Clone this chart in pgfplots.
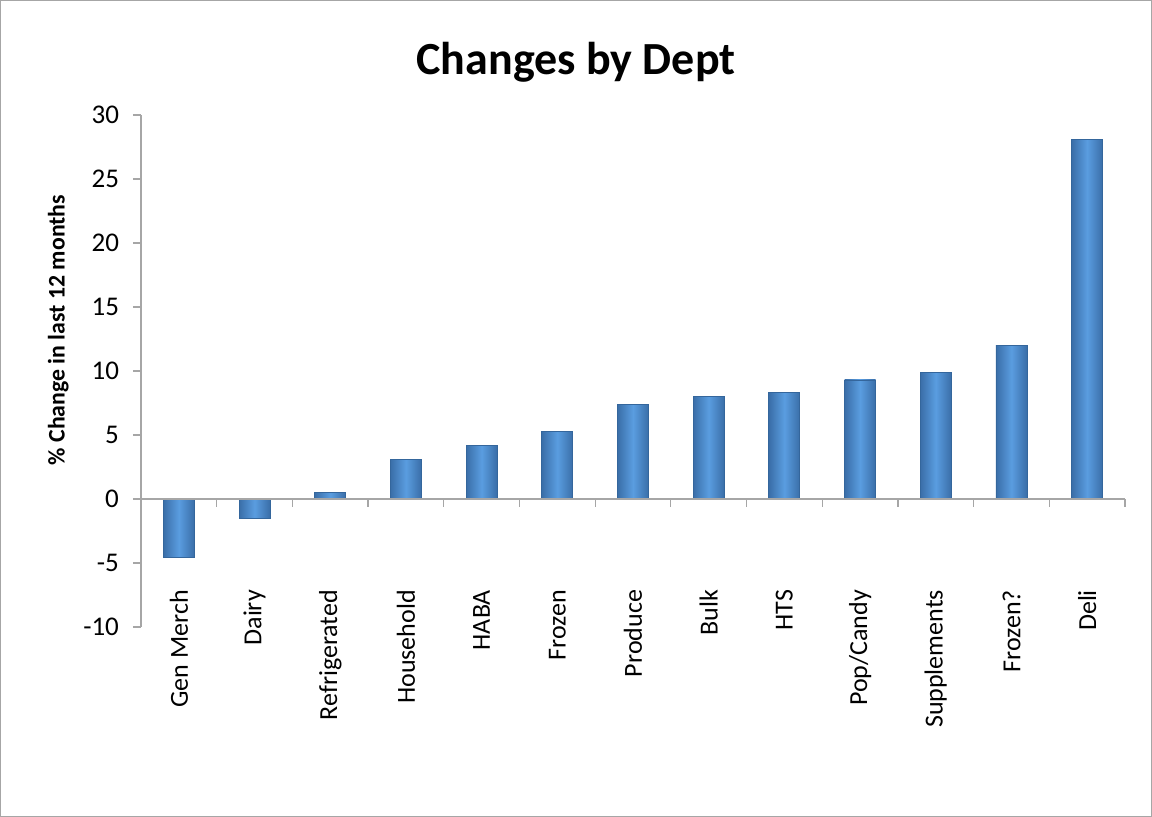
\documentclass[border=0pt]{standalone}
\usepackage{pgfplots}
\pgfplotsset{compat=1.18}
\usepackage{fontspec}
\setmainfont{Carlito}
\definecolor{axgray}{HTML}{A6A6A6}
\definecolor{barmid}{HTML}{5A9DE0}
\definecolor{baredge}{HTML}{3A6EA8}
\definecolor{barline}{HTML}{34669C}

\pgfplotsset{
    deptbar/.style={ybar, bar width=15.5pt, bar shift=0pt, draw=barline, line width=0.4pt,
        left color=baredge, right color=baredge, middle color=barmid},
}

\begin{document}
\begin{tikzpicture}
\useasboundingbox (-70.5pt,-95pt) rectangle (505.5pt,313.5pt);
\draw[axgray, line width=0.6pt] (-70.2pt,-94.7pt) rectangle (505.2pt,313.2pt);
\node[anchor=base, font=\bfseries\fontsize{23}{27}\selectfont] at (217.5pt,276pt) {Changes by Dept};
\begin{axis}[
    at={(0pt,0pt)}, anchor=south west,
    scale only axis,
    width=492pt, height=256pt,
    xmin=-0.5, xmax=12.5,
    ymin=-10, ymax=30,
    axis y line*=left,
    axis x line*=bottom,
    x axis line style={draw=none},
    y axis line style={axgray, line width=0.6pt},
    xtick={0,...,12},
    xticklabels={Gen Merch, Dairy, Refrigerated, Household, HABA, Frozen, Produce, Bulk, HTS, Pop/Candy, Supplements, Frozen?, Deli},
    xtick style={draw=none},
    xticklabel style={rotate=90, anchor=east, font=\fontsize{13}{15}\selectfont},
    xticklabel shift={-26pt},
    ytick={-10,-5,...,30},
    ytick style={axgray, line width=0.6pt},
    tick align=outside,
    major tick length=4pt,
    yticklabel style={font=\fontsize{13.5}{15}\selectfont, xshift=-3.5pt},
    /pgf/number format/assume math mode=true,
    ylabel={\% Change in last 12 months},
    ylabel style={at={(axis description cs:-0.084,0.58)}, anchor=center, font=\bfseries\fontsize{11.9}{14}\selectfont},
    clip=false,
]
\addplot[deptbar] coordinates {(0,-4.6)};
\addplot[deptbar] coordinates {(1,-1.5)};
\addplot[deptbar] coordinates {(2,0.5)};
\addplot[deptbar] coordinates {(3,3.1)};
\addplot[deptbar] coordinates {(4,4.2)};
\addplot[deptbar] coordinates {(5,5.3)};
\addplot[deptbar] coordinates {(6,7.4)};
\addplot[deptbar] coordinates {(7,8.0)};
\addplot[deptbar] coordinates {(8,8.3)};
\addplot[deptbar] coordinates {(9,9.3)};
\addplot[deptbar] coordinates {(10,9.9)};
\addplot[deptbar] coordinates {(11,12.0)};
\addplot[deptbar] coordinates {(12,28.1)};
\draw[axgray, line width=0.6pt] (axis cs:-0.5,0) -- (axis cs:12.5,0);
\pgfplotsinvokeforeach{0.5,1.5,...,12.5}{
    \draw[axgray, line width=0.6pt] (axis cs:#1,0) -- ++(0pt,-4pt);
}
\end{axis}
\end{tikzpicture}
\end{document}
